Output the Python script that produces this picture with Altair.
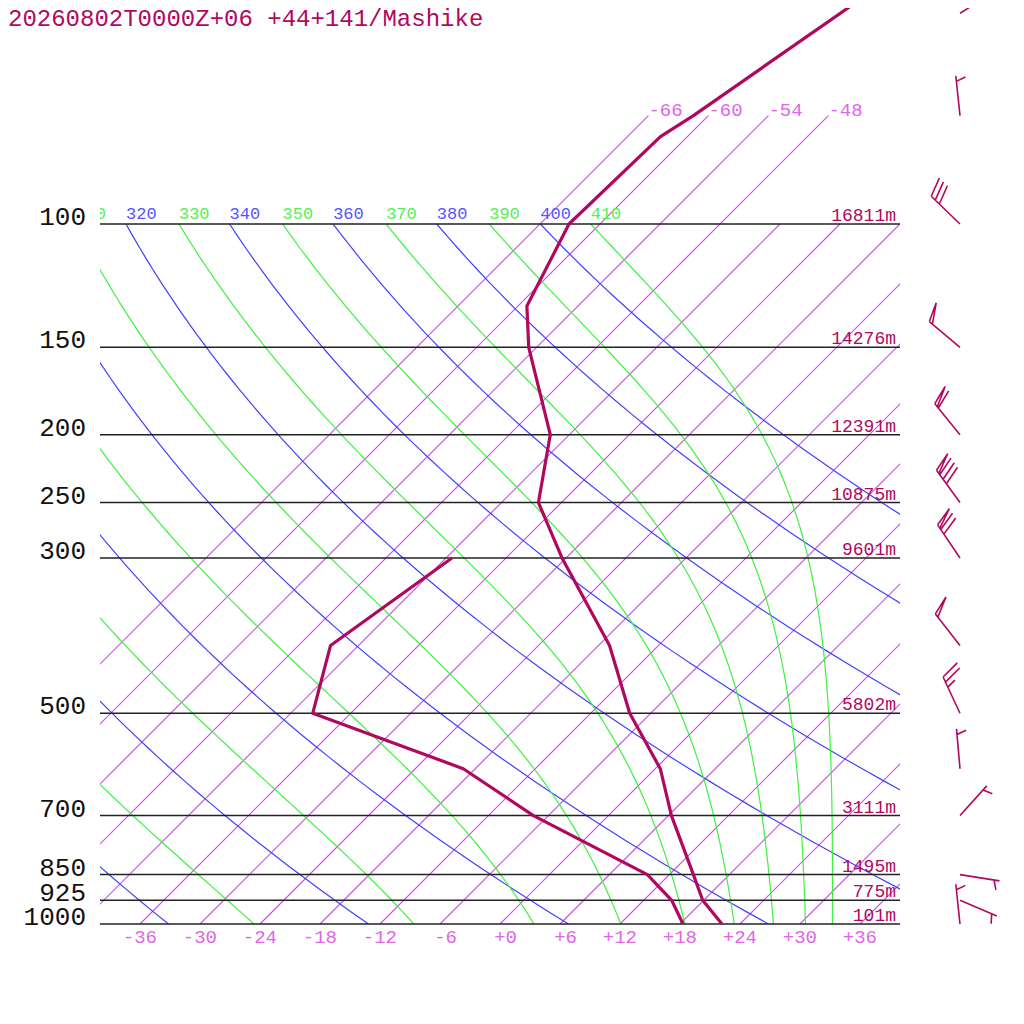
import numpy as np
import pandas as pd
import altair as alt

TITLE = "20260802T0000Z+06 +44+141/Mashike"

# sounding (hPa, degC)
PRES = [1000, 925, 850, 700, 600, 500, 400, 300, 250, 200, 150, 131, 100, 75, 70, 48]
TEMP = [22.2, 17.9, 14.4, 6.3, 0.5, -8.1, -16.9, -30.4, -38.3, -43.9, -54.8, -59.1, -63.1, -62.7, -61.5, -56.5]
DEW_PRES = [1000, 925, 850, 700, 600, 500, 400, 300]
DEWP = [18.3, 14.8, 9.8, -7.5, -19.2, -39.8, -44.8, -41.4]

# winds (deg, kt)
WIND_PRES = [1000, 925, 850, 700, 600, 500, 400, 300, 250, 200, 150, 100, 70, 50]
WIND_DIR = [354, 113, 99, 42, 355, 335, 322, 326, 324, 321, 310, 314, 354, 58]
WIND_KT = [5, 5, 5, 5, 5, 25, 50, 70, 80, 60, 50, 30, 5, 10]

LEVELS = [100, 150, 200, 250, 300, 500, 700, 850, 925, 1000]
HEIGHTS = ["16811m", "14276m", "12391m", "10875m", "9601m", "5802m", "3111m", "1495m", "775m", "101m"]

ISOTHERMS = list(range(-66, 37, 6))
ISO_TOP_LABELS = [-66, -60, -54, -48]
ISO_BOTTOM_LABELS = list(range(-36, 37, 6))
THETA = list(range(240, 401, 20))
THETA_E = list(range(250, 411, 20))

SKEW = 30.4          # deg per ln(1000/p)
P_TOP = 1000 * np.exp(-916 / 304.0)
FONT = "Liberation Mono"
CRIMSON = "#b0085f"
ISO_COL = "#d24cec"
ISO_TXT = "#e066e6"
BLUE = "#4040ff"
GREEN = "#40f040"

XS = alt.Scale(domain=[-40, 40], nice=False, zero=False)
YS = alt.Scale(type="log", domain=[P_TOP, 1000], reverse=True, nice=False)


def skewed(df):
    return alt.Chart(df).transform_calculate(xs=f"datum.t + {SKEW}*log(1000/datum.p)")


def x_enc():
    return alt.X("xs:Q", scale=XS, axis=None)


def y_enc():
    return alt.Y("p:Q", scale=YS, axis=None)


# isotherms
iso_rows = []
for t in ISOTHERMS:
    top = 70 if t <= -48 else 100
    iso_rows += [dict(iso=t, p=1000, t=t, i=0), dict(iso=t, p=top, t=t, i=1)]
iso_df = pd.DataFrame(iso_rows)

# dry adiabats
p_grid = np.geomspace(1000, 100, 60)
dry_rows = []
for th in THETA:
    for i, p in enumerate(p_grid):
        dry_rows.append(dict(val=th, p=p, t=th * (p / 1000) ** 0.2857 - 273.15, i=i))
dry_df = pd.DataFrame(dry_rows)


# saturated (pseudo) adiabats, Bolton theta-e
def theta_e(tk, p):
    tc = tk - 273.15
    es = 6.112 * np.exp(17.67 * tc / (tc + 243.5))
    r = 1000 * 0.622 * es / np.maximum(p - es, 1e-6)
    th = tk * (1000 / p) ** (0.2854 * (1 - 0.00028 * r))
    te = th * np.exp((3.376 / tk - 0.00254) * r * (1 + 0.00081 * r))
    return np.where(es < 0.5 * p, te, 1e9)


moist_rows = []
for te in THETA_E:
    lo = np.full_like(p_grid, 150.0)
    hi = np.full_like(p_grid, 330.0)
    for _ in range(60):
        mid = (lo + hi) / 2
        big = theta_e(mid, p_grid) > te
        hi = np.where(big, mid, hi)
        lo = np.where(big, lo, mid)
    for i, (p, tk) in enumerate(zip(p_grid, (lo + hi) / 2)):
        moist_rows.append(dict(val=te, p=p, t=tk - 273.15, i=i))
moist_df = pd.DataFrame(moist_rows)


def top_labels_of(df):
    d = df[df.i == len(p_grid) - 1]
    d = d[d.t + SKEW * np.log(10) > -44]   # only the ones that reach into the plot
    return d.assign(txt=d.val.astype(str))


dry_lab = top_labels_of(dry_df)
moist_lab = top_labels_of(moist_df)

snd_df = pd.concat([
    pd.DataFrame(dict(kind="t", p=PRES, t=TEMP, i=range(len(PRES)))),
    pd.DataFrame(dict(kind="td", p=DEW_PRES, t=DEWP, i=range(len(DEW_PRES)))),
])


def barb_path(kt):
    s, fx, fy = 0.14, 0.47, -0.171
    parts = ["M0,0L0,-1"]
    pen, rest = divmod(kt, 50)
    full, rest = divmod(rest, 10)
    d = 0.0
    for _ in range(pen):
        y0 = -1 + d
        parts.append(f"M0,{y0:.3f}L{fx},{y0 + fy:.3f}L0,{y0 + 0.1:.3f}")
        d += s
    for _ in range(full):
        y0 = -1 + d
        parts.append(f"M0,{y0:.3f}L{fx},{y0 + fy:.3f}")
        d += s
    if rest >= 5:
        if kt < 10:
            d = s
        y0 = -1 + d
        parts.append(f"M0,{y0:.3f}L{fx / 2:.3f},{y0 + fy / 2:.3f}")
    return "".join(parts)


wind_df = pd.DataFrame(dict(p=WIND_PRES, dir=WIND_DIR, kt=WIND_KT))
wind_df["path"] = wind_df.kt.apply(barb_path)

lev_df = pd.DataFrame(dict(p=LEVELS, lab=[str(v) for v in LEVELS], h=HEIGHTS))
bot_df = pd.DataFrame(dict(t=ISO_BOTTOM_LABELS, p=1000, txt=[f"{v:+d}" for v in ISO_BOTTOM_LABELS]))
top_df = pd.DataFrame(dict(t=ISO_TOP_LABELS, p=70, txt=[f"{v:d}" for v in ISO_TOP_LABELS]))

isotherms = skewed(iso_df).mark_line(clip=True, stroke=ISO_COL, strokeWidth=1.2).encode(
    x=x_enc(), y=y_enc(), detail="iso:N", order="i:Q")
dry = skewed(dry_df).mark_line(clip=True, stroke=BLUE, strokeWidth=1.2).encode(
    x=x_enc(), y=y_enc(), detail="val:N", order="i:Q")
moist = skewed(moist_df).mark_line(clip=True, stroke=GREEN, strokeWidth=1.2).encode(
    x=x_enc(), y=y_enc(), detail="val:N", order="i:Q")

rules = alt.Chart(lev_df).mark_rule(color="#222222", strokeWidth=1.5).encode(
    y=y_enc(), x=alt.value(0), x2=alt.value(800))

sounding = skewed(snd_df).mark_line(clip=True, stroke=CRIMSON, strokeWidth=3.2, strokeJoin="round").encode(
    x=x_enc(), y=y_enc(), detail="kind:N", order="i:Q")

txt = dict(font=FONT)
p_labels = alt.Chart(lev_df).mark_text(align="right", baseline="alphabetic", fontSize=26, dy=1,
                                       color="#111111", **txt).encode(
    x=alt.value(-14), y=y_enc(), text="lab:N")
h_labels = alt.Chart(lev_df).mark_text(align="right", baseline="alphabetic", fontSize=18, dy=-3,
                                       color=CRIMSON, **txt).encode(
    x=alt.value(796), y=y_enc(), text="h:N")
bot_labels = skewed(bot_df).mark_text(align="right", baseline="alphabetic", fontSize=19, dx=17, dy=19,
                                      color=ISO_TXT, **txt).encode(
    x=x_enc(), y=y_enc(), text="txt:N")
top_labels = skewed(top_df).mark_text(align="left", baseline="alphabetic", fontSize=19, dy=0,
                                      color=ISO_TXT, **txt).encode(
    x=x_enc(), y=y_enc(), text="txt:N")
dry_labels = skewed(dry_lab).mark_text(align="left", baseline="alphabetic", fontSize=17, dy=-5,
                                       clip=True, color="#5555ff", **txt).encode(
    x=x_enc(), y=y_enc(), text="txt:N")
moist_labels = skewed(moist_lab).mark_text(align="left", baseline="alphabetic", fontSize=17, dy=-5,
                                           clip=True, color="#55ee55", **txt).encode(
    x=x_enc(), y=y_enc(), text="txt:N")

barbs = alt.Chart(wind_df).mark_point(filled=False, strokeWidth=1.6, color=CRIMSON, opacity=1).encode(
    x=alt.value(860), y=y_enc(),
    shape=alt.Shape("path:N", scale=None, legend=None),
    angle=alt.Angle("dir:Q", scale=None),
    size=alt.value(6400))

title = alt.Chart(pd.DataFrame(dict(txt=[TITLE]))).mark_text(
    align="left", baseline="alphabetic", fontSize=24, color=CRIMSON, **txt).encode(
    x=alt.value(-92), y=alt.value(18), text="txt:N")

chart = alt.layer(
    isotherms, dry, moist, rules, dry_labels, moist_labels, top_labels, bot_labels,
    p_labels, h_labels, sounding, barbs, title,
).properties(
    width=800, height=916,
    padding={"left": 92, "top": 0, "right": 116, "bottom": 40},
    autosize=alt.AutoSizeParams(type="none"),
).configure_view(stroke=None)

chart.save("out.html", embed_options={"renderer": "svg", "actions": False})
